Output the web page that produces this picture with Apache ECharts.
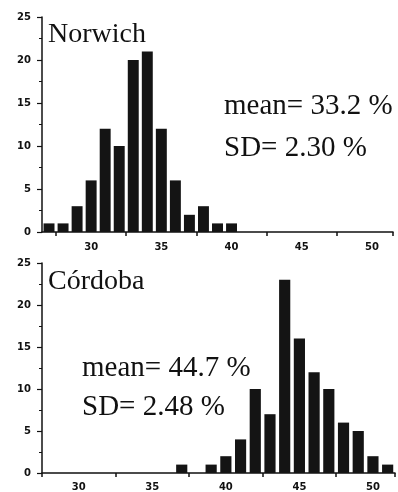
<!DOCTYPE html>
<html>
<head>
<meta charset="utf-8">
<script src="https://cdn.jsdelivr.net/npm/echarts@6/dist/echarts.min.js"></script>
<style>
html,body{margin:0;padding:0;background:#fff;}
#c{width:398px;height:492px;}
</style>
</head>
<body>
<div id="c"></div>
<script>
// Norwich histogram: bins 27..51 (%)
const norwichBins = ['27','28','29','30','31','32','33','34','35','36','37','38','39','40','41','42','43','44','45','46','47','48','49','50','51'];
const norwichCounts = [1,1,3,6,12,10,20,21,12,6,2,3,1,1,0,0,0,0,0,0,0,0,0,0,0];
// Córdoba histogram: bins 28..51 (%)
const cordobaBins = ['28','29','30','31','32','33','34','35','36','37','38','39','40','41','42','43','44','45','46','47','48','49','50','51'];
const cordobaCounts = [0,0,0,0,0,0,0,0,0,1,0,1,2,4,10,7,23,16,12,10,6,5,2,1];
// tick labels
const xTickLabels = ['30','35','40','45','50'];
const xTickMarks = ['28','33','38','43','48']; // ticks drawn at left edge of these bins (27.5, 32.5, ...)
const yMax = 25, yStep = 5;
// annotations
const norwichTitle = 'Norwich', norwichMean = 'mean= 33.2 %', norwichSD = 'SD= 2.30 %';
const cordobaTitle = 'Córdoba', cordobaMean = 'mean= 44.7 %', cordobaSD = 'SD= 2.48 %';

const ink = '#111';
const tickFont = {fontFamily:'DejaVu Sans', fontWeight:'bold', fontSize:10, color:ink};

function xAxis(gridIndex, cats, margin){
  return {
    type:'category', gridIndex, data:cats, boundaryGap:true,
    axisLine:{show:true, lineStyle:{color:ink, width:1.5}},
    axisTick:{show:true, length:4, lineStyle:{color:ink, width:1.5},
      interval:(i)=> xTickMarks.includes(cats[i])},
    axisLabel:Object.assign({margin, interval:(i)=> xTickLabels.includes(cats[i])}, tickFont),
    splitLine:{show:false}
  };
}
function yAxis(gridIndex){
  return {
    type:'value', gridIndex, min:0, max:yMax, interval:yStep,
    axisLine:{show:true, lineStyle:{color:ink, width:1.5}},
    axisTick:{show:true, length:5, lineStyle:{color:ink, width:1.2}},
    minorTick:{show:true, splitNumber:2, length:3, lineStyle:{color:ink, width:1}},
    axisLabel:Object.assign({margin:11}, tickFont),
    splitLine:{show:false}
  };
}
function txt(x, y, s, size){
  return {type:'text', left:x, top:y, style:{text:s, fontFamily:'Liberation Serif', fontSize:size, fill:ink}};
}

const chart = echarts.init(document.getElementById('c'), null, {renderer:'canvas'});
chart.setOption({
  backgroundColor:'#fff',
  animation:false,
  grid:[
    {left:42, right:5, top:17, height:215},
    {left:42, right:3, top:263, height:211}
  ],
  xAxis:[xAxis(0, norwichBins, 10), xAxis(1, cordobaBins, 9)],
  yAxis:[yAxis(0), yAxis(1)],
  series:[
    {type:'bar', xAxisIndex:0, yAxisIndex:0, data:norwichCounts, barCategoryGap:'22%',
     itemStyle:{color:'#141414'}},
    {type:'bar', xAxisIndex:1, yAxisIndex:1, data:cordobaCounts, barCategoryGap:'24%',
     itemStyle:{color:'#141414'}}
  ],
  graphic:[
    txt(48, 21, norwichTitle, 28),
    txt(224, 92, norwichMean, 29),
    txt(224, 134, norwichSD, 29),
    txt(48, 268, cordobaTitle, 28),
    txt(82, 354, cordobaMean, 29),
    txt(82, 393, cordobaSD, 29)
  ]
});
</script>
</body>
</html>
